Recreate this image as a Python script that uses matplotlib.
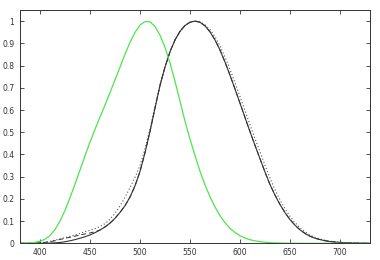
import numpy as np
import matplotlib
matplotlib.use("Agg")
import matplotlib.pyplot as plt

# wavelength grid, nm
wl = np.arange(380, 735, 5)

# scotopic curve (green)
scotopic = [0.0006, 0.0011, 0.0022, 0.0045, 0.0093, 0.0185, 0.0348, 0.062,
            0.100, 0.148, 0.205, 0.266, 0.330, 0.394, 0.455, 0.513, 0.568,
            0.622, 0.678, 0.735, 0.793, 0.851, 0.904, 0.949, 0.982, 0.998,
            0.997, 0.976, 0.937, 0.882, 0.812, 0.730, 0.640, 0.550, 0.470,
            0.395, 0.325, 0.263, 0.210, 0.164, 0.125, 0.093, 0.068, 0.049,
            0.0345, 0.024, 0.0165, 0.0112, 0.0076, 0.0051, 0.0034, 0.0023,
            0.0015, 0.0010, 0.0007, 0.0005, 0.0003, 0.0002, 0.00015, 0.0001,
            0.00007, 0.00005, 0.00003, 0.00002, 0.00002, 0.00001, 0.00001,
            0.0, 0.0, 0.0, 0.0]

# photopic curve (solid black)
photopic = [0.00004, 0.00006, 0.00012, 0.00022, 0.0004, 0.00064, 0.0012,
            0.0022, 0.004, 0.0073, 0.0116, 0.0168, 0.023, 0.0298, 0.038,
            0.048, 0.060, 0.0739, 0.091, 0.1126, 0.139, 0.1693, 0.208,
            0.2586, 0.323, 0.4073, 0.503, 0.6082, 0.710, 0.7932, 0.862,
            0.9149, 0.954, 0.9803, 0.995, 1.0, 0.995, 0.9786, 0.952, 0.9154,
            0.870, 0.8163, 0.757, 0.6949, 0.631, 0.5668, 0.503, 0.4412, 0.381,
            0.321, 0.265, 0.217, 0.175, 0.1382, 0.107, 0.0816, 0.061, 0.0446,
            0.032, 0.0232, 0.017, 0.0119, 0.0082, 0.0057, 0.0041, 0.0029,
            0.0021, 0.0015, 0.0010, 0.0007, 0.0005]

# modified photopic curve (dashed), raised in the blue
photopic_mod = [0.0002, 0.0004, 0.0008, 0.0016, 0.0028, 0.0047, 0.0074,
                0.0118, 0.0175, 0.0227, 0.0273, 0.0326, 0.0379, 0.0424,
                0.0468, 0.0521, 0.060] + photopic[17:]

# alternative photopic curve (dotted)
photopic_alt = [0.0, 0.0001, 0.0004, 0.0011, 0.0025, 0.005, 0.0091, 0.0143,
                0.0202, 0.0261, 0.0317, 0.0377, 0.045, 0.0523, 0.0588,
                0.0662, 0.0759, 0.089, 0.108, 0.135, 0.168, 0.207, 0.250,
                0.297, 0.350, 0.425, 0.515, 0.615, 0.713, 0.795, 0.862, 0.915,
                0.953, 0.980, 0.995, 1.0, 0.997, 0.984, 0.962, 0.930, 0.888,
                0.839, 0.783, 0.723, 0.661, 0.597, 0.534, 0.472, 0.412, 0.352,
                0.294, 0.242, 0.196, 0.156, 0.122, 0.0935, 0.0705, 0.052,
                0.0378, 0.0272, 0.0197, 0.014, 0.0098, 0.0069, 0.0049, 0.0035,
                0.0025, 0.0018, 0.0013, 0.0009, 0.0006]

xticks = [400, 450, 500, 550, 600, 650, 700]
yticks = [0, 0.1, 0.2, 0.3, 0.4, 0.5, 0.6, 0.7, 0.8, 0.9, 1]
ytick_labels = ['0', '0.1', '0.2', '0.3', '0.4', '0.5', '0.6', '0.7', '0.8',
                '0.9', '1']

fig = plt.figure(figsize=(3.8, 2.6), dpi=100)
ax = fig.add_axes([0.0526, 0.064, 0.921, 0.8975])

ax.plot(wl, photopic_alt, color='#555555', linestyle=(0, (1, 2)), lw=0.8)
ax.plot(wl, photopic_mod, color='#333333', linestyle=(0, (5, 3)), lw=0.7)
ax.plot(wl, photopic, color='#333333', lw=0.8)
ax.plot(wl, scotopic, color='#4de44d', lw=0.9)

ax.set_xlim(380, 730)
ax.set_ylim(0, 1.05)
ax.set_xticks(xticks)
ax.set_yticks(yticks)
ax.set_yticklabels(ytick_labels)

ax.tick_params(direction='in', length=3, width=0.6, labelsize=5.5,
               top=True, right=True, colors='#333333')
ax.tick_params(axis='y', pad=4)
ax.tick_params(axis='x', pad=3)
for s in ax.spines.values():
    s.set_linewidth(0.7)
    s.set_color('#333333')

fig.savefig('out.png', dpi=100)
